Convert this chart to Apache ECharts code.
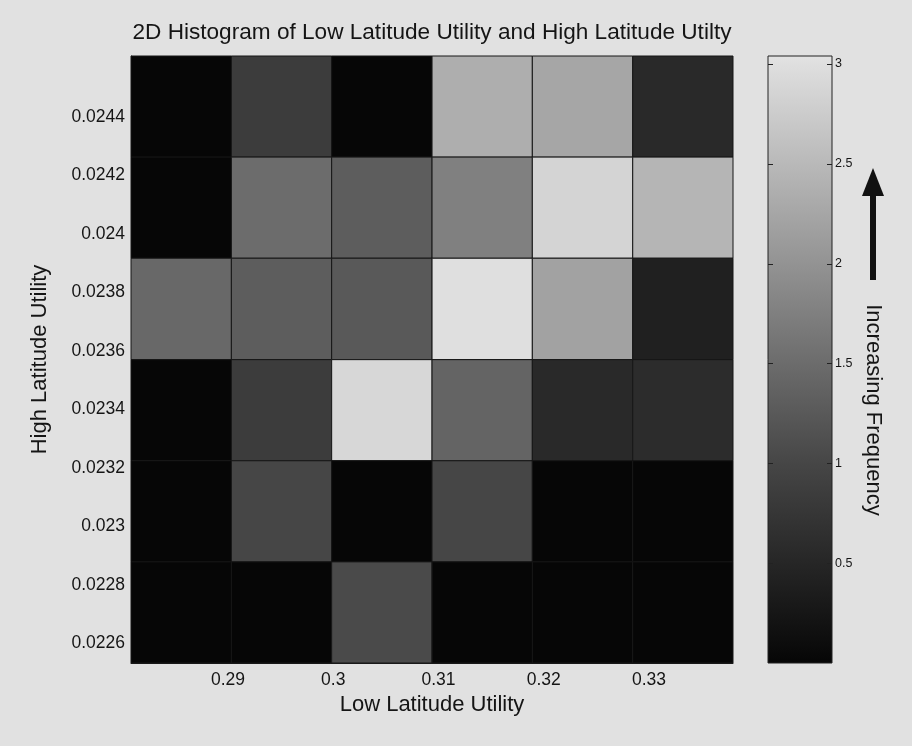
<!DOCTYPE html>
<html>
<head>
<meta charset="utf-8">
<script src="https://cdn.jsdelivr.net/npm/echarts@6/dist/echarts.min.js"></script>
<style>
  html, body { margin: 0; padding: 0; background: #e1e1e1; }
  #chart { width: 912px; height: 746px; }
</style>
</head>
<body>
<div id="chart"></div>
<script>
// Bin edges of the 2D histogram
const xEdges = [0.28078, 0.29032, 0.29985, 0.30939, 0.31892, 0.32846, 0.33799];
const yEdges = [0.022532, 0.022878, 0.023224, 0.023570, 0.023917, 0.024263, 0.024609];

// Frequency per bin; rows run from the highest High Latitude bin down to the lowest
const freqRows = [
  [0,    0.85, 0,    2.35, 2.25, 0.55],
  [0,    1.5,  1.3,  1.75, 2.85, 2.45],
  [1.45, 1.3,  1.25, 3.0,  2.2,  0.4 ],
  [0,    0.85, 2.9,  1.4,  0.55, 0.6 ],
  [0,    1.0,  0,    1.0,  0,    0   ],
  [0,    0,    1.05, 0,    0,    0   ]
];

const xTicks = [0.29, 0.3, 0.31, 0.32, 0.33];
const yTicks = [0.0226, 0.0228, 0.023, 0.0232, 0.0234, 0.0236, 0.0238, 0.024, 0.0242, 0.0244];
const cbarTicks = [0.5, 1, 1.5, 2, 2.5, 3];
const cbarMax = 3.04;

// Grey colormap (value -> grey)
const greyStops = [
  [0, '#060606'], [0.5, '#262626'], [1, '#464646'], [1.5, '#6c6c6c'],
  [2, '#939393'], [2.5, '#b9b9b9'], [3, '#dfdfdf'], [3.04, '#e3e3e3']
];

function hexToRgb(h) {
  return [parseInt(h.slice(1, 3), 16), parseInt(h.slice(3, 5), 16), parseInt(h.slice(5, 7), 16)];
}
function greyAt(v) {
  if (v <= greyStops[0][0]) return greyStops[0][1];
  for (let i = 1; i < greyStops.length; i++) {
    if (v <= greyStops[i][0]) {
      const a = greyStops[i - 1], b = greyStops[i];
      const t = (v - a[0]) / (b[0] - a[0]);
      const ca = hexToRgb(a[1]), cb = hexToRgb(b[1]);
      const c = ca.map((x, k) => Math.round(x + (cb[k] - x) * t));
      return 'rgb(' + c.join(',') + ')';
    }
  }
  return greyStops[greyStops.length - 1][1];
}

const cells = [];
freqRows.forEach((row, r) => {
  const yb = freqRows.length - 1 - r;
  row.forEach((v, c) => {
    cells.push([xEdges[c], xEdges[c + 1], yEdges[yb], yEdges[yb + 1], v]);
  });
});

const FONT = "'Liberation Sans', Arial, Helvetica, sans-serif";
const TXT = '#151515';
const TICK_LEN = 5;

const chart = echarts.init(document.getElementById('chart'), null, { renderer: 'canvas' });

chart.setOption({
  backgroundColor: '#e1e1e1',
  animation: false,
  title: {
    text: '2D Histogram of Low Latitude Utility and High Latitude Utilty',
    left: 427, top: 16, textAlign: 'center',
    textStyle: { fontFamily: FONT, fontWeight: 'normal', fontSize: 22.6, color: TXT }
  },
  grid: [
    { left: 131, top: 56, width: 602, height: 607 },
    { left: 768, top: 56, width: 64, height: 607 }
  ],
  xAxis: [
    {
      gridIndex: 0, type: 'value', min: xEdges[0], max: xEdges[xEdges.length - 1],
      name: 'Low Latitude Utility', nameLocation: 'middle', nameGap: 30,
      nameTextStyle: { fontFamily: FONT, fontSize: 22, color: TXT },
      axisLine: { show: true, lineStyle: { color: '#1a1a1a' } },
      axisTick: { show: false },
      splitLine: { show: false },
      axisLabel: {
        customValues: xTicks, margin: 8, fontFamily: FONT, fontSize: 17.5, color: TXT,
        formatter: v => String(v)
      }
    },
    { gridIndex: 1, type: 'value', min: 0, max: 1, show: false }
  ],
  yAxis: [
    {
      gridIndex: 0, type: 'value', min: yEdges[0], max: yEdges[yEdges.length - 1],
      name: 'High Latitude Utility', nameLocation: 'middle', nameGap: 80, nameRotate: 90,
      nameTextStyle: { fontFamily: FONT, fontSize: 22, color: TXT },
      axisLine: { show: true, lineStyle: { color: '#1a1a1a' } },
      axisTick: { show: false },
      splitLine: { show: false },
      axisLabel: {
        customValues: yTicks, margin: 6, fontFamily: FONT, fontSize: 17.5, color: TXT,
        formatter: v => String(v)
      }
    },
    {
      gridIndex: 1, type: 'value', min: 0, max: cbarMax, position: 'right',
      axisLine: { show: false },
      axisTick: { show: false },
      splitLine: { show: false },
      axisLabel: {
        customValues: cbarTicks, margin: 3, fontFamily: FONT, fontSize: 12.5, color: TXT,
        formatter: v => String(v)
      }
    }
  ],
  series: [
    {
      type: 'custom',
      xAxisIndex: 0, yAxisIndex: 0,
      encode: { x: [0, 1], y: [2, 3] },
      data: cells,
      renderItem: function (params, api) {
        const p0 = api.coord([api.value(0), api.value(3)]);
        const p1 = api.coord([api.value(1), api.value(2)]);
        return {
          type: 'rect',
          shape: { x: p0[0], y: p0[1], width: p1[0] - p0[0], height: p1[1] - p0[1] },
          style: { fill: greyAt(api.value(4)), stroke: '#161616', lineWidth: 1 }
        };
      }
    },
    {
      // colour bar: gradient strip with inward tick marks on both edges
      type: 'custom',
      xAxisIndex: 1, yAxisIndex: 1,
      encode: { x: [0, 1], y: [2, 3] },
      data: [[0, 1, 0, cbarMax]],
      renderItem: function (params, api) {
        const p0 = api.coord([api.value(0), api.value(3)]);
        const p1 = api.coord([api.value(1), api.value(2)]);
        const stops = greyStops.map(s => ({ offset: s[0] / cbarMax, color: s[1] }));
        const children = [{
          type: 'rect',
          shape: { x: p0[0], y: p0[1], width: p1[0] - p0[0], height: p1[1] - p0[1] },
          style: {
            fill: new echarts.graphic.LinearGradient(0, 1, 0, 0, stops),
            stroke: '#222', lineWidth: 1
          }
        }];
        cbarTicks.forEach(t => {
          const y = Math.round(api.coord([0, t])[1]) + 0.5;
          children.push({
            type: 'line', shape: { x1: p0[0], y1: y, x2: p0[0] + TICK_LEN, y2: y },
            style: { stroke: '#222', lineWidth: 1 }
          });
          children.push({
            type: 'line', shape: { x1: p1[0] - TICK_LEN, y1: y, x2: p1[0], y2: y },
            style: { stroke: '#222', lineWidth: 1 }
          });
        });
        return { type: 'group', children: children };
      }
    }
  ],
  graphic: [
    {
      type: 'line', shape: { x1: 873, y1: 280, x2: 873, y2: 192 },
      style: { stroke: '#111', lineWidth: 6 }
    },
    {
      type: 'polygon', shape: { points: [[873, 168], [862, 196], [884, 196]] },
      style: { fill: '#111' }
    },
    {
      type: 'text', x: 873, y: 410, rotation: -Math.PI / 2,
      style: {
        text: 'Increasing Frequency', fontFamily: FONT, fontSize: 22, fill: TXT,
        textAlign: 'center', textVerticalAlign: 'middle'
      }
    }
  ]
});
</script>
</body>
</html>
